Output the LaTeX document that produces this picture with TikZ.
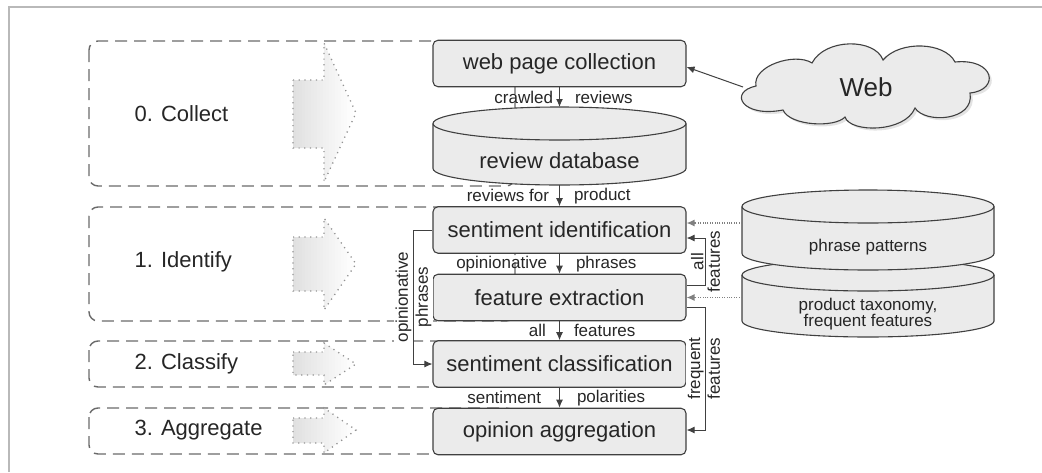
\documentclass[tikz,border=0pt]{standalone}
\usepackage{fontspec}
\setmainfont{Liberation Sans}
\usetikzlibrary{arrows.meta,shadows}
\definecolor{boxgray}{HTML}{EBEBEB}
\definecolor{linegray}{HTML}{404040}
\definecolor{dashgray}{HTML}{6A6A6A}
\definecolor{txtgray}{HTML}{262626}
\tikzset{
  >={Latex[length=8pt,width=7pt]},
  x=1pt, y=-1pt,
}
\tikzstyle{every node}=[text=txtgray]
\tikzstyle{stage}=[draw=linegray, fill=boxgray, line width=1.1pt, rounded corners=5pt,
  minimum width=253pt, minimum height=46.5pt, font=\fontsize{22}{24}\selectfont]
\tikzstyle{drum}=[draw=linegray, fill=boxgray, line width=1.1pt]
\tikzstyle{phase}=[draw=dashgray, line width=1.4pt, dash pattern=on 12pt off 7pt, rounded corners=9pt]
\tikzstyle{phaselabel}=[anchor=west, font=\fontsize{22}{24}\selectfont]
\tikzstyle{bigarrow}=[draw=gray!85, line width=1.3pt, dash pattern=on 1.2pt off 4.5pt]
\tikzstyle{flow}=[draw=linegray, line width=1pt, ->]
\tikzstyle{feed}=[draw=gray, line width=1.2pt, dash pattern=on 1pt off 1.4pt, ->]
\tikzstyle{lbl}=[font=\fontsize{17}{19}\selectfont, inner sep=1pt]
\tikzstyle{sidelbl}=[lbl, rotate=90, fill=white, inner sep=1.5pt]

\begin{document}
\begin{tikzpicture}
\useasboundingbox (0,0) rectangle (1042,472);
\draw[gray!55, line width=1.3pt] (9,472) -- (9,7) -- (1042,7);

% phases
\draw[phase] (89,41) rectangle (515,186);
\draw[phase] (89,207) rectangle (515,321);
\draw[phase] (89,341) rectangle (515,387);
\draw[phase] (89,408) rectangle (515,454);
\node[phaselabel] (p0) at (131,114) {0. Collect};
\node[phaselabel] (p1) at (131,262) {1. Identify};
\node[phaselabel] (p2) at (131,364) {2. Classify};
\node[phaselabel] (p3) at (131,430) {3. Aggregate};
\foreach \bt/\bb/\ht/\hb/\tip in {80/148/43/182/113, 237/291/218/310/264,
    352/375/343/385/364, 418/443/408/453/430}{
  \begin{scope}
    \clip (293,\bt) -- (324,\bt) -- (324,\ht) -- (356,\tip) -- (324,\hb) -- (324,\bb) -- (293,\bb) -- cycle;
    \foreach \s [evaluate=\s as \g using 12-0.6*\s] in {0,...,20}
      \fill[black!\g] (293+3*\s,\ht) rectangle ++(3.3,\hb-\ht);
  \end{scope}
  \path[bigarrow] (293,\bt) -- (324,\bt) -- (324,\ht) -- (356,\tip) -- (324,\hb)
    -- (324,\bb) -- (293,\bb) -- cycle;
}

% pipeline
\node[stage] (crawler) at (559.5,63.5) {web page collection};
\path[drum] (433,123.5) -- (433,168.5) arc[start angle=180, end angle=0, x radius=126.5, y radius=16.5]
  -- (686,123.5) arc[start angle=0, end angle=-180, x radius=126.5, y radius=16.5] -- cycle;
\draw[drum, fill=none] (433,123.5) arc[start angle=180, end angle=0, x radius=126.5, y radius=16.5];
\coordinate (dbtop) at (559.5,107);
\coordinate (dbbot) at (559.5,185);
\node[font=\fontsize{22}{24}\selectfont] (reviewdb) at (559.5,161) {review database};
\node[stage] (ident) at (559.5,230) {sentiment identification};
\node[stage] (extract) at (559.5,297.5) {feature extraction};
\node[stage] (classify) at (559.5,364) {sentiment classification};
\node[stage] (aggregate) at (559.5,431.5) {opinion aggregation};

% sources
\path[drum, drop shadow={opacity=0.22, shadow xshift=2.5pt, shadow yshift=-2.5pt}]
  (756,86) .. controls (752,66) and (795,52) .. (812,63)
  .. controls (825,38) and (875,38) .. (883,60)
  .. controls (900,40) and (945,42) .. (955,62)
  .. controls (995,58) and (1000,90) .. (970,93)
  .. controls (975,121) and (925,124) .. (915,108)
  .. controls (905,133) and (850,133) .. (845,117)
  .. controls (835,128) and (790,126) .. (783,110)
  .. controls (742,118) and (728,92) .. (756,86) -- cycle;
\node[font=\fontsize{26}{28}\selectfont] (web) at (866,87) {Web};
\coordinate (webW) at (743,87);
\path[drum] (742,275) -- (742,321) arc[start angle=180, end angle=0, x radius=126, y radius=16]
  -- (994,275) arc[start angle=0, end angle=-180, x radius=126, y radius=16] -- cycle;
\draw[drum, fill=none] (742,275) arc[start angle=180, end angle=0, x radius=126, y radius=16];
\path[drum] (742,206.5) -- (742,253.5) arc[start angle=180, end angle=0, x radius=126, y radius=16.5]
  -- (994,206.5) arc[start angle=0, end angle=-180, x radius=126, y radius=16.5] -- cycle;
\draw[drum, fill=none] (742,206.5) arc[start angle=180, end angle=0, x radius=126, y radius=16.5];
\node[lbl] (patterns) at (868,247) {phrase patterns};
\node[lbl, align=center] (taxonomy) at (868,314) {product taxonomy,\\[-3pt]frequent features};
\coordinate (patternsW) at (742,223);
\coordinate (taxonomyW) at (742,297.5);

% connectors
\draw[flow] (webW) -- ([yshift=-3.5pt]crawler.east);
\draw[flow] (crawler) -- (dbtop) node[midway, lbl, left=5pt] {crawled} node[midway, lbl, right=14pt] {reviews};
\draw[flow] (dbbot) -- (ident) node[midway, lbl, left=9pt] {reviews for} node[midway, lbl, right=13pt] {product};
\draw[flow] (ident) -- (extract) node[midway, lbl, left=11pt] {opinionative} node[midway, lbl, right=15pt] {phrases};
\draw[flow] (extract) -- (classify) node[midway, lbl, left=12pt] {all} node[midway, lbl, right=13pt] {features};
\draw[flow] (classify) -- (aggregate) node[midway, lbl, left=17pt] {sentiment} node[midway, lbl, right=16pt] {polarities};
\draw[feed] (patternsW) -- ([yshift=7pt]ident.east);
\draw[feed] (taxonomyW) -- (extract.east);
\draw[flow] (ident.west) -- ++(-19,0) |- (classify.west)
  node[pos=0.25, sidelbl, anchor=south] {opinionative} node[pos=0.25, sidelbl, anchor=north] {phrases};
\draw[flow] ([yshift=12.5pt]extract.east) -- ++(19,0) |- ([yshift=-8pt]ident.east)
  node[pos=0.25, sidelbl, anchor=south] {all} node[pos=0.25, sidelbl, anchor=north] {features};
\draw[flow] ([yshift=-9.5pt]extract.east) -- ++(19,0) |- ([yshift=1.5pt]aggregate.east)
  node[pos=0.25, sidelbl, anchor=south] {frequent} node[pos=0.25, sidelbl, anchor=north] {features};
\end{tikzpicture}
\end{document}
